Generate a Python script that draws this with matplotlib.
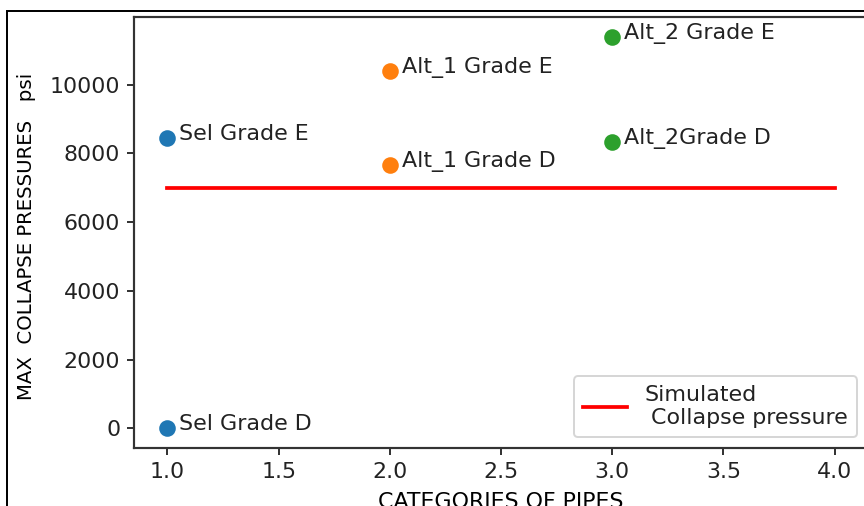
import matplotlib
matplotlib.use("Agg")
import matplotlib.pyplot as plt
from matplotlib.patches import Rectangle

# pipe categories and max collapse pressures (psi)
sel_x = [1, 1]
sel_y = [8450, 0]
sel_labels = ["Sel Grade E", "Sel Grade D"]

alt1_x = [2, 2]
alt1_y = [10400, 7650]
alt1_labels = ["Alt_1 Grade E", "Alt_1 Grade D"]

alt2_x = [3, 3]
alt2_y = [11400, 8330]
alt2_labels = ["Alt_2 Grade E", "Alt_2Grade D"]

sim_x = [1, 4]
sim_y = [7000, 7000]

plt.rcParams["font.size"] = 11.2
plt.rcParams["text.color"] = "#222222"
plt.rcParams["xtick.labelcolor"] = "#222222"
plt.rcParams["ytick.labelcolor"] = "#222222"

DPI = 142
fig = plt.figure(figsize=(864 / DPI, 506 / DPI), dpi=DPI)
ax = fig.add_axes([134 / 864, 1 - 448 / 506, 734 / 864, 431 / 506])

for xs, ys, labels in [(sel_x, sel_y, sel_labels),
                       (alt1_x, alt1_y, alt1_labels),
                       (alt2_x, alt2_y, alt2_labels)]:
    ax.scatter(xs, ys, s=55)
    for x, y, lab in zip(xs, ys, labels):
        ax.annotate(lab, (x, y), xytext=(6, -1), textcoords="offset points")

ax.plot(sim_x, sim_y, color="red", linewidth=1.9, label="Simulated\n Collapse pressure")
ax.set_xlabel("CATEGORIES OF PIPES", labelpad=5)
ax.set_ylabel("MAX  COLLAPSE PRESSURES   psi", fontsize=10)
ax.yaxis.set_label_coords(-0.134, 0.49)
ax.legend(loc="lower right")
for sp in ax.spines.values():
    sp.set_linewidth(1.1)
    sp.set_color("#333333")

# screenshot frame
fig.patches.append(Rectangle((7 / 864, -0.1), 1.1, (506 - 11) / 506 + 0.1,
                             transform=fig.transFigure, fill=False,
                             edgecolor="black", linewidth=1.0))

fig.savefig("out.png", dpi=DPI)
